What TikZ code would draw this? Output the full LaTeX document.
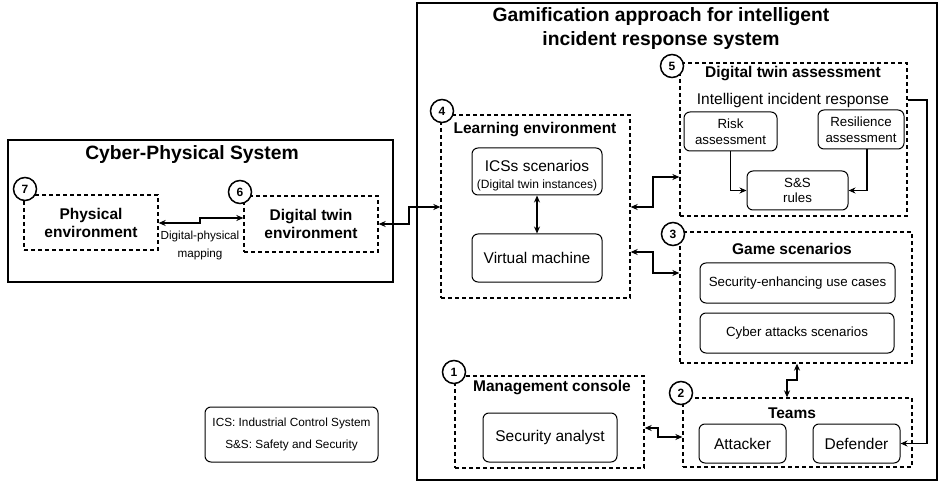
\documentclass[tikz,border=0pt]{standalone}
\usepackage{fontspec}
\setmainfont{Liberation Sans}
\usetikzlibrary{arrows.meta,calc}
\begin{document}
\begin{tikzpicture}[x=1pt,y=-1pt,
  sz/.style 2 args={minimum width=#1pt, minimum height=#2pt},
  tbox/.style={draw, line width=2pt, inner sep=0pt},
  dbox/.style={draw, line width=1.3pt, dash pattern=on 4pt off 3pt, inner sep=0pt, align=center},
  rbox/.style={draw, line width=1pt, rounded corners=6pt, inner sep=0pt, align=center},
  num/.style={circle, draw, line width=1.5pt, fill=white, minimum size=23pt, inner sep=0pt, font=\bfseries\fontsize{12}{12}\selectfont},
  big/.style={font=\bfseries\fontsize{19.3}{24}\selectfont, align=center, inner sep=0pt},
  ttl/.style={font=\bfseries\fontsize{15.5}{18}\selectfont, align=center, inner sep=0pt},
  txt/.style={font=\fontsize{15.5}{18}\selectfont, align=center},
  stxt/.style={font=\fontsize{13.3}{16}\selectfont, align=center},
  small/.style={font=\fontsize{11.7}{18}\selectfont, align=center, inner sep=0pt},
  arr/.style={line width=1.3pt, -{Stealth[length=7pt,width=6pt]}},
  dbl/.style={line width=1.3pt, {Stealth[length=7pt,width=6pt]}-{Stealth[length=7pt,width=6pt]}}
]
\useasboundingbox (0,0) rectangle (939,486);

% Cyber-physical system
\node[tbox, sz={385}{142}] (cps) at (200.5,211) {};
\node[big] (cpst) at (192,155) {Cyber-Physical System};
\node[dbox, sz={134}{55}, font=\bfseries\fontsize{15.5}{18}\selectfont] (phys) at (91,222.5) {Physical\\environment};
\node[dbox, sz={134}{56}, font=\bfseries\fontsize{15.5}{18}\selectfont] (dtenv) at (311,224) {Digital twin\\environment};
\node[small] (dpm) at (200,245) {Digital-physical\\mapping};

% Gamification
\node[tbox, sz={520}{477}] (gam) at (677,241.5) {};
\node[big] (gamt) at (661,29) {Gamification approach for intelligent\\incident response system};

% Learning environment
\node[dbox, sz={189}{183}] (learn) at (535.5,206.5) {};
\node[ttl] (learnt) at (535,130) {Learning environment};
\node[rbox, sz={130}{47}, font=\fontsize{15.5}{20}\selectfont] (ics) at (537,171.5) {\rule{0pt}{19pt}ICSs scenarios\\[-3pt]{\fontsize{12}{14}\selectfont(Digital twin instances)}};
\node[rbox, sz={130}{48}, font=\fontsize{15.5}{18}\selectfont] (vm) at (537,258) {Virtual machine};

% Digital twin assessment
\node[dbox, sz={227}{153}] (dta) at (793.5,139.5) {};
\node[ttl] (dtat) at (793,74) {Digital twin assessment};
\node[txt, inner sep=0pt] (iir) at (793,100) {Intelligent incident response};
\node[rbox, sz={93}{39}, stxt] (risk) at (730.5,131.5) {Risk\\assessment};
\node[rbox, sz={86}{39}, stxt] (resil) at (861,129.5) {Resilience\\assessment};
\node[rbox, sz={101}{39}, font=\fontsize{13.3}{15.5}\selectfont] (ssr) at (797.5,190.5) {S\&S\\rules};

% Game scenarios
\node[dbox, sz={232}{131}] (game) at (796,297.5) {};
\node[ttl] (gamet) at (792,249) {Game scenarios};
\node[rbox, sz={195}{40}, stxt] (seu) at (797.5,283) {Security-enhancing use cases};
\node[rbox, sz={194}{40}, stxt] (cyb) at (797,333) {Cyber attacks scenarios};

% Management console
\node[dbox, sz={189}{92}] (mgmt) at (549.5,422) {};
\node[ttl] (mgmtt) at (552,388) {Management console};
\node[rbox, sz={134}{49}, txt] (sa) at (550,437.5) {Security analyst};

% Teams
\node[dbox, sz={229}{69}] (teams) at (797.5,432.5) {};
\node[ttl] (teamst) at (792,413) {Teams};
\node[rbox, sz={87}{39}, txt] (att) at (742.5,443.5) {Attacker};
\node[rbox, sz={87}{39}, txt] (def) at (856.5,443.5) {Defender};

% Legend
\node[rbox, sz={173}{55}, font=\fontsize{11.8}{22}\selectfont] (leg) at (291.5,434.5) {ICS: Industrial Control System\\S\&S: Safety and Security};

% Number circles
\node[num] (c7) at (25,189) {7};
\node[num] (c6) at (240,192) {6};
\node[num] (c4) at (442,111) {4};
\node[num] (c5) at (672,66) {5};
\node[num] (c3) at (673,234) {3};
\node[num] (c1) at (454,372) {1};
\node[num] (c2) at (681,393) {2};

% Connectors
\draw[dbl] ($(phys.east)+(0,0.5)$) -- (200,223) -- (200,218) -- ($(dtenv.west)+(0,-6)$);
\draw[dbl] (dtenv.east) -- (409,224) -- (409,207) -- ($(learn.west)+(0,0.5)$);
\draw[dbl] ($(learn.east)+(0,0.5)$) -- (653,207) -- (653,177) -- ($(dta.west)+(0,37.5)$);
\draw[dbl] ($(learn.east)+(0,45.5)$) -- (653,252) -- (653,273) -- ($(game.west)+(0,-24.5)$);
\draw[dbl] (ics.south) -- (vm.north);
\draw[arr] (risk.south) |- (ssr.west);
\draw[arr] ($(resil.south)+(6,0)$) |- (ssr.east);
\draw[dbl] ($(game.south)+(1,0)$) -- (797,380) -- (787,380) -- ($(teams.north)+(-10.5,0)$);
\draw[dbl] ($(mgmt.east)+(0,6)$) -- (658,428) -- (658,437) -- ($(teams.west)+(0,4.5)$);
\draw[arr] ($(dta.east)+(0,-39.5)$) -- (927,100) |- (def.east);
\end{tikzpicture}
\end{document}
